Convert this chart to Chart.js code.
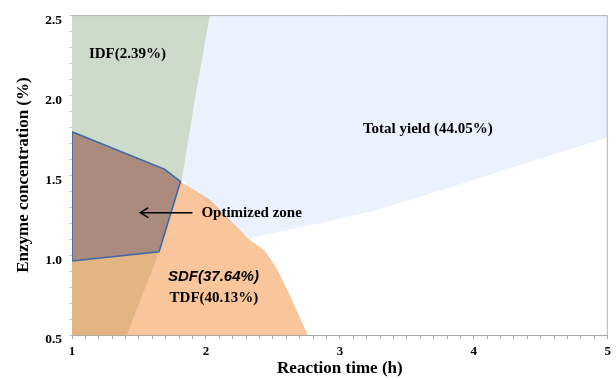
<!DOCTYPE html>
<html>
<head>
<meta charset="utf-8">
<script src="https://cdn.jsdelivr.net/npm/chart.js@4/dist/chart.umd.min.js"></script>
<style>
html,body{margin:0;padding:0;background:#fff;}
#wrap{width:616px;height:380px;position:relative;}
</style>
</head>
<body>
<div id="wrap"><canvas id="c"></canvas></div>
<script>
// ---- Data (reaction time h, enzyme concentration %) ----
const xTickLabels = [1, 2, 3, 4, 5];
const yTickLabels = [0.5, 1.0, 1.5, 2.0, 2.5];

// Total yield region (44.05%)
const yieldX = [2.03, 5.00, 5.00, 4.29, 3.79, 3.29, 2.85, 2.32, 1.82];
const yieldY = [2.50, 2.50, 1.735, 1.549, 1.414, 1.284, 1.198, 1.105, 1.47];

// IDF region (2.39%)
const idfX = [1.00, 2.03, 1.92, 1.82, 1.65, 1.41, 1.00];
const idfY = [2.50, 2.50, 1.98, 1.47, 1.02, 0.50, 0.50];

// SDF / TDF region (37.64% / 40.13%)
const tdfX = [1.00, 1.00, 1.65, 1.81, 2.03, 2.32, 2.44, 2.53, 2.62, 2.76];
const tdfY = [0.50, 0.963, 1.02, 1.46, 1.346, 1.10, 1.025, 0.914, 0.76, 0.50];

// Optimized zone
const optX = [1.00, 1.69, 1.81, 1.65, 1.00, 1.00];
const optY = [1.77, 1.537, 1.46, 1.02, 0.963, 1.77];

const toPts = (xs, ys) => xs.map((x, i) => ({x: x, y: ys[i]}));

// ---- Annotations (data coordinates) ----
const notes = [
  {text: 'IDF(2.39%)', x: 1.414, y: 2.253, align: 'center', font: 'bold 15px "Liberation Serif"'},
  {text: 'Total yield (44.05%)', x: 3.657, y: 1.784, align: 'center', font: 'bold 15px "Liberation Serif"'},
  {text: 'Optimized zone', x: 1.966, y: 1.265, align: 'left', font: 'bold 15px "Liberation Serif"'},
  {text: 'SDF(37.64%)', x: 2.056, y: 0.864, align: 'center', font: 'italic bold 15px "Liberation Sans"'},
  {text: 'TDF(40.13%)', x: 2.06, y: 0.728, align: 'center', font: 'bold 15px "Liberation Serif"'}
];
const arrow = {x0: 1.90, x1: 1.51, y: 1.265};

const notesPlugin = {
  id: 'notes',
  afterDatasetsDraw(chart) {
    const {ctx, scales: {x, y}, chartArea: a} = chart;
    ctx.save();
    // frame (top & right)
    ctx.strokeStyle = '#b4b4b4';
    ctx.lineWidth = 1;
    ctx.beginPath();
    ctx.moveTo(a.left, a.top + 0.5);
    ctx.lineTo(a.right - 0.5, a.top + 0.5);
    ctx.lineTo(a.right - 0.5, a.bottom);
    ctx.stroke();
    // arrow
    const ax0 = x.getPixelForValue(arrow.x0), ax1 = x.getPixelForValue(arrow.x1), ay = y.getPixelForValue(arrow.y);
    ctx.strokeStyle = '#000';
    ctx.lineWidth = 1.5;
    ctx.beginPath();
    ctx.moveTo(ax0, ay); ctx.lineTo(ax1, ay);
    ctx.moveTo(ax1 + 8, ay - 5); ctx.lineTo(ax1, ay); ctx.lineTo(ax1 + 8, ay + 5);
    ctx.stroke();
    // texts
    ctx.fillStyle = '#000';
    ctx.textBaseline = 'middle';
    notes.forEach(n => {
      ctx.font = n.font;
      ctx.textAlign = n.align;
      ctx.fillText(n.text, x.getPixelForValue(n.x), y.getPixelForValue(n.y));
    });
    ctx.restore();
  }
};

const serif = '"Liberation Serif", "Times New Roman", serif';
Chart.defaults.font.family = serif;

new Chart(document.getElementById('c'), {
  type: 'scatter',
  data: {
    datasets: [
      {label: 'Optimized zone', data: toPts(optX, optY), showLine: true, fill: 'shape',
       backgroundColor: '#ab8b7e', borderColor: '#3d69a3', borderWidth: 1.6, pointRadius: 0, tension: 0, order: 0},
      {label: 'SDF/TDF', data: toPts(tdfX, tdfY), showLine: true, fill: 'shape',
       backgroundColor: 'rgba(244,150,73,0.55)', borderColor: 'rgba(0,0,0,0)', borderWidth: 0, pointRadius: 0, tension: 0, order: 1},
      {label: 'IDF', data: toPts(idfX, idfY), showLine: true, fill: 'shape',
       backgroundColor: '#cddbcb', borderColor: 'rgba(0,0,0,0)', borderWidth: 0, pointRadius: 0, tension: 0, order: 2},
      {label: 'Total yield', data: toPts(yieldX, yieldY), showLine: true, fill: 'shape',
       backgroundColor: '#e9f2fe', borderColor: 'rgba(0,0,0,0)', borderWidth: 0, pointRadius: 0, tension: 0, order: 3}
    ]
  },
  options: {
    responsive: true,
    maintainAspectRatio: false,
    animation: false,
    layout: {padding: {top: 11, right: 8, left: 0, bottom: 0}},
    plugins: {legend: {display: false}, tooltip: {enabled: false}},
    scales: {
      x: {
        type: 'linear', min: 1, max: 5,
        afterFit: s => { s.height = 45; },
        ticks: {
          stepSize: 0.1, autoSkip: false, maxRotation: 0, padding: 5,
          color: '#000', font: {size: 13, weight: 'bold'},
          callback: v => { const r = Math.round(v); return (Math.abs(v - r) < 1e-6 && xTickLabels.includes(r)) ? String(r) : ''; }
        },
        grid: {drawOnChartArea: false, drawTicks: true, tickLength: 4, color: '#a8a8a8'},
        border: {color: '#a8a8a8'},
        title: {display: true, text: 'Reaction time (h)', color: '#000', font: {size: 17, weight: 'bold'}, padding: {top: 0, bottom: 1}}
      },
      y: {
        type: 'linear', min: 0.5, max: 2.5,
        afterFit: s => { s.width = 72; },
        ticks: {
          stepSize: 0.1, autoSkip: false, padding: 7, labelOffset: 5,
          color: '#000', font: {size: 13.5, weight: 'bold'},
          callback: v => { const m = yTickLabels.find(t => Math.abs(t - v) < 1e-6); return m !== undefined ? m.toFixed(1) : ''; }
        },
        grid: {drawOnChartArea: false, drawTicks: true, tickLength: 3, color: '#c8c8c8'},
        border: {color: '#bdbdbd'},
        title: {display: true, text: 'Enzyme concentration (%)', color: '#000', font: {size: 17, weight: 'bold'}, padding: {top: 13, bottom: 0}}
      }
    }
  },
  plugins: [notesPlugin]
});
</script>
</body>
</html>
